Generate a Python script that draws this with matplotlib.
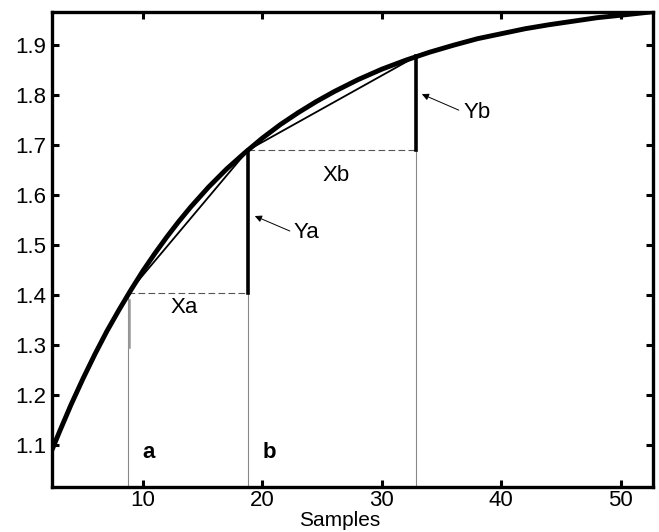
import matplotlib
matplotlib.use('Agg')
import matplotlib.pyplot as plt

plt.rcParams['font.family'] = ['Liberation Sans', 'DejaVu Sans']

# --- data ---
curve_x = [2.4, 3, 4, 5, 6, 7, 8, 9, 10, 11, 12, 13, 14, 15.5, 17, 18.5, 20,
           21.5, 23, 24.5, 26, 28, 30, 32, 34, 36, 38, 40, 42, 44, 46, 48, 50, 52.7]
curve_y = [1.090, 1.125, 1.181, 1.233, 1.282, 1.328, 1.370, 1.410, 1.448,
           1.483, 1.516, 1.547, 1.576, 1.616, 1.652, 1.684, 1.714, 1.741,
           1.765, 1.787, 1.807, 1.831, 1.852, 1.870, 1.886, 1.900, 1.913,
           1.923, 1.933, 1.941, 1.948, 1.955, 1.960, 1.967]

# sample points on the curve (a, b, next)
sample_x = [8.75, 18.8, 32.9]
sample_y = [1.404, 1.690, 1.878]

x_ticks = [10, 20, 30, 40, 50]
y_ticks = [1.1, 1.2, 1.3, 1.4, 1.5, 1.6, 1.7, 1.8, 1.9]
x_min, x_max = 2.4, 52.7
y_min, y_max = 1.016, 1.966

fig = plt.figure(figsize=(6.59, 5.32), dpi=100)
ax = fig.add_axes([0.079, 0.085, 0.912, 0.892])

# thin vertical guides down to the x axis
ax.plot([sample_x[0], sample_x[0]], [sample_y[0], y_min], c='#888888', lw=0.8)
ax.plot([sample_x[0] + 0.1, sample_x[0] + 0.1], [1.39, 1.295], c='#999999', lw=1.8)
ax.plot([sample_x[1], sample_x[1]], [sample_y[0], y_min], c='#888888', lw=0.8)
ax.plot([sample_x[2], sample_x[2]], [sample_y[1], y_min], c='#888888', lw=0.8)

# dashed horizontal steps (Xa, Xb)
ax.plot([sample_x[0], sample_x[1]], [sample_y[0], sample_y[0]], c='#555555',
        lw=0.8, ls=(0, (6, 3)))
ax.plot([sample_x[1], sample_x[2]], [sample_y[1], sample_y[1]], c='#555555',
        lw=0.8, ls=(0, (6, 3)))

# thick vertical steps (Ya, Yb)
ax.plot([sample_x[1], sample_x[1]], [sample_y[0], sample_y[1]], c='k', lw=2.6)
ax.plot([sample_x[2], sample_x[2]], [sample_y[1], sample_y[2]], c='k', lw=2.6)

# chords
ax.plot(sample_x, sample_y, c='k', lw=1.3)

# main curve
ax.plot(curve_x, curve_y, c='k', lw=3.5, solid_capstyle='butt',
        solid_joinstyle='round')

# labels
fs = 16
ax.text(13.43, 1.374, 'Xa', fontsize=fs, ha='center', va='center')
ax.text(26.15, 1.640, 'Xb', fontsize=fs, ha='center', va='center')
ax.text(22.6, 1.526, 'Ya', fontsize=fs, ha='left', va='center')
ax.text(36.8, 1.766, 'Yb', fontsize=fs, ha='left', va='center')
ax.text(10.5, 1.074, 'a', fontsize=fs, fontweight='bold', ha='center', va='baseline')
ax.text(20.6, 1.074, 'b', fontsize=fs, fontweight='bold', ha='center', va='baseline')

ax.annotate('', xy=(19.37, 1.558), xytext=(22.3, 1.528),
            arrowprops=dict(arrowstyle='-|>', color='k', lw=0.7,
                            mutation_scale=10, shrinkA=0, shrinkB=0))
ax.annotate('', xy=(33.35, 1.802), xytext=(36.44, 1.770),
            arrowprops=dict(arrowstyle='-|>', color='k', lw=0.7,
                            mutation_scale=10, shrinkA=0, shrinkB=0))

ax.set_xlim(x_min, x_max)
ax.set_ylim(y_min, y_max)
ax.set_xticks(x_ticks)
ax.set_yticks(y_ticks)
ax.set_yticklabels([f'{v:.1f}' for v in y_ticks])
ax.tick_params(direction='in', length=5, width=2.2, labelsize=fs,
               top=True, right=True)
ax.tick_params(axis='x', pad=2)
ax.tick_params(axis='y', pad=4)
for sp in ax.spines.values():
    sp.set_linewidth(2.4)

# axis label placed against the bottom edge of the figure
fig.text(0.516, 0.003, 'Samples', fontsize=15, ha='center', va='bottom')

fig.savefig('out.png', dpi=100)
